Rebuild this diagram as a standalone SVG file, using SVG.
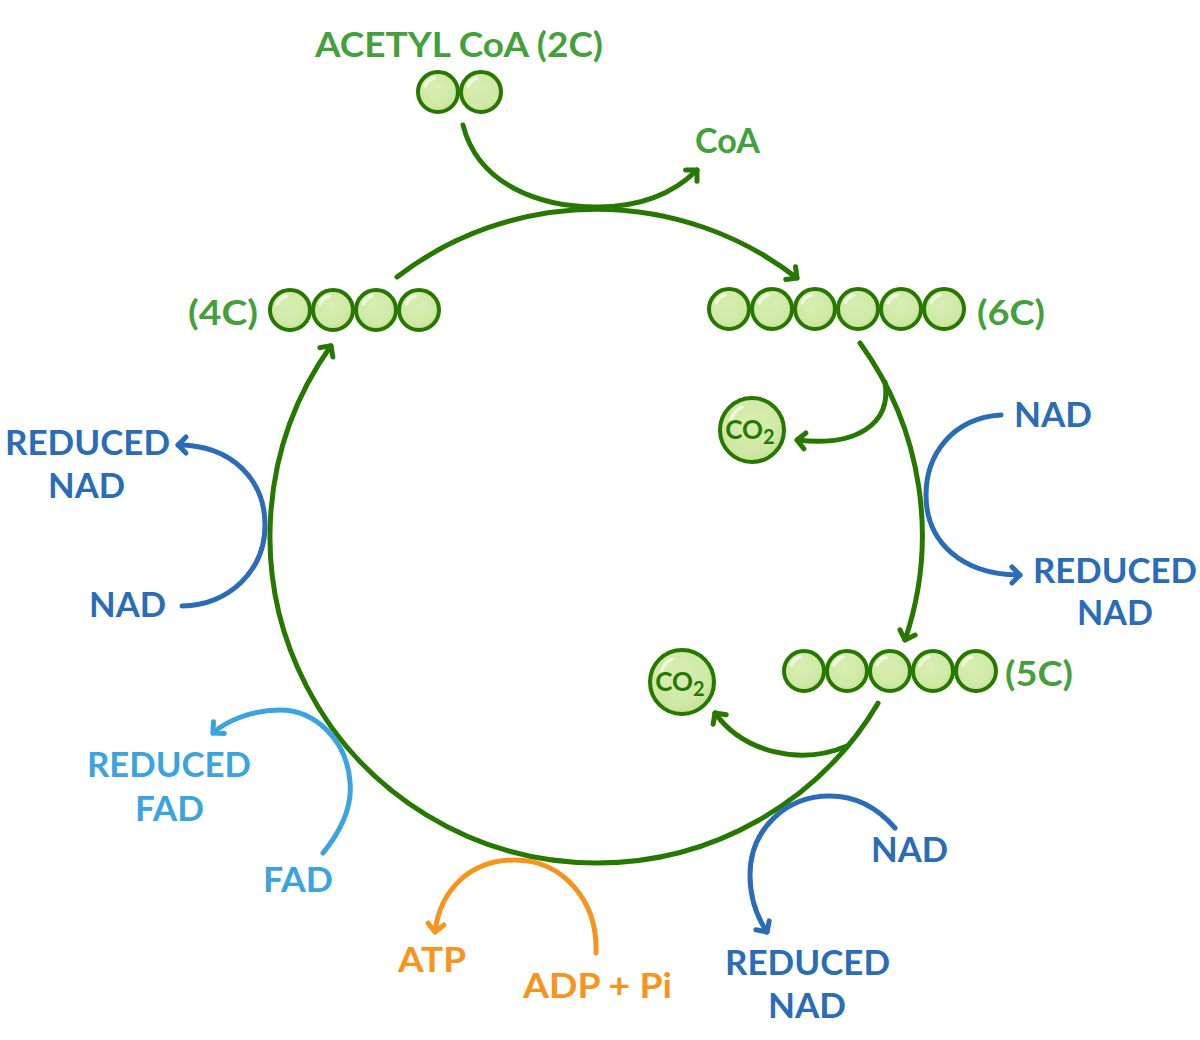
<svg xmlns="http://www.w3.org/2000/svg" xmlns:xlink="http://www.w3.org/1999/xlink" width="1200" height="1040" viewBox="0 0 1200 1040">
<style>
text{font-family:Lato,"Liberation Sans",sans-serif;font-weight:bold;font-size:34px}
.g{fill:#43a03a}.b{fill:#2a6cb8}.lb{fill:#3aa3e0}.o{fill:#f7941d}
.co{fill:#267800;font-size:26px}
.ln{fill:none;stroke-width:5;stroke-linecap:round}
.gl{stroke:#267800}.bl{stroke:#2a6cb8}.lbl{stroke:#3aa3e0}.ol{stroke:#f7941d}
</style>
<defs>
<radialGradient id="fillg" cx="0.45" cy="0.4" r="0.6">
<stop offset="0" stop-color="#d8eeb2"/><stop offset="0.75" stop-color="#d0e9a6"/><stop offset="1" stop-color="#c3e196"/>
</radialGradient>
<g id="atom">
<circle r="20" fill="url(#fillg)" stroke="#267800" stroke-width="4"/>
<path d="M-13,-6 A14,14 0 0 1 -4,-14" fill="none" stroke="#ffffff" stroke-opacity="0.65" stroke-width="3.5" stroke-linecap="round"/>
</g>
<marker id="mg" markerUnits="userSpaceOnUse" viewBox="-12 -12 24 24" markerWidth="24" markerHeight="24" orient="auto" refX="0" refY="0"><path d="M-8,-8 L0,0 L-8,8" fill="none" stroke="#267800" stroke-width="5" stroke-linecap="round" stroke-linejoin="round"/></marker>
<marker id="mb" markerUnits="userSpaceOnUse" viewBox="-12 -12 24 24" markerWidth="24" markerHeight="24" orient="auto" refX="0" refY="0"><path d="M-8,-8 L0,0 L-8,8" fill="none" stroke="#2a6cb8" stroke-width="5" stroke-linecap="round" stroke-linejoin="round"/></marker>
<marker id="mlb" markerUnits="userSpaceOnUse" viewBox="-12 -12 24 24" markerWidth="24" markerHeight="24" orient="auto" refX="0" refY="0"><path d="M-8,-8 L0,0 L-8,8" fill="none" stroke="#3aa3e0" stroke-width="5" stroke-linecap="round" stroke-linejoin="round"/></marker>
<marker id="mo" markerUnits="userSpaceOnUse" viewBox="-12 -12 24 24" markerWidth="24" markerHeight="24" orient="auto" refX="0" refY="0"><path d="M-8,-8 L0,0 L-8,8" fill="none" stroke="#f7941d" stroke-width="5" stroke-linecap="round" stroke-linejoin="round"/></marker>
</defs>
<rect width="1200" height="1040" fill="#ffffff"/>

<g id="connectors">
<path class="ln gl" d="M397,277 A327,327 0 0 1 797,278" marker-end="url(#mg)"/>
<path class="ln gl" d="M860,343 A327,327 0 0 1 905,640" marker-end="url(#mg)"/>
<path class="ln gl" d="M878.1,703.1 A327,327 0 0 1 597,863 A327,327 0 0 1 331,345.8" marker-end="url(#mg)"/>
<path class="ln gl" d="M463,125 C478,185 540,207 597,207 C640,207 672,195 697,170" marker-end="url(#mg)"/>
<path class="ln gl" d="M885,382 C892,425 855,447 797,440" marker-end="url(#mg)"/>
<path class="ln gl" d="M847,746 C800,766 743,752 715,713" marker-end="url(#mg)"/>
<path class="ln bl" d="M1001,415 C952,418 926,455 926,495 C926,542 962,575 1020,575" marker-end="url(#mb)"/>
<path class="ln bl" d="M182,606 C230,605 265,570 265,525 C265,480 232,445 178,445" marker-end="url(#mb)"/>
<path class="ln bl" d="M895,828 C876,806 855,796 830,796 C785,796 750,830 750,875 C750,900 757,917 767,932" marker-end="url(#mb)"/>
<path class="ln lbl" d="M323,853 C345,826 352,802 350,782 C347,740 315,710 280,710 C252,710 226,721 213,733" marker-end="url(#mlb)"/>
<path class="ln ol" d="M596,953 C598,900 562,860 515,860 C470,860 440,890 435,932" marker-end="url(#mo)"/>
</g>

<g id="acetyl-coa">
<text class="g" x="315" y="57" textLength="288" lengthAdjust="spacingAndGlyphs">ACETYL CoA (2C)</text>
<use xlink:href="#atom" x="438" y="92"/>
<use xlink:href="#atom" x="481" y="92"/>
</g>
<g id="coa"><text class="g" x="695" y="153" textLength="65" lengthAdjust="spacingAndGlyphs">CoA</text></g>

<g id="c6">
<use xlink:href="#atom" x="729" y="309"/>
<use xlink:href="#atom" x="772" y="309"/>
<use xlink:href="#atom" x="815" y="309"/>
<use xlink:href="#atom" x="858" y="309"/>
<use xlink:href="#atom" x="901" y="309"/>
<use xlink:href="#atom" x="944" y="309"/>
<text class="g" x="977" y="325" textLength="68" lengthAdjust="spacingAndGlyphs">(6C)</text>
</g>

<g id="c4">
<text class="g" x="188" y="325" textLength="70" lengthAdjust="spacingAndGlyphs">(4C)</text>
<use xlink:href="#atom" x="290" y="310"/>
<use xlink:href="#atom" x="333" y="310"/>
<use xlink:href="#atom" x="376" y="310"/>
<use xlink:href="#atom" x="419" y="310"/>
</g>

<g id="c5">
<use xlink:href="#atom" x="804" y="671"/>
<use xlink:href="#atom" x="847" y="671"/>
<use xlink:href="#atom" x="890" y="671"/>
<use xlink:href="#atom" x="933" y="671"/>
<use xlink:href="#atom" x="976" y="671"/>
<text class="g" x="1005" y="686" textLength="68" lengthAdjust="spacingAndGlyphs">(5C)</text>
</g>

<g id="co2-1">
<circle cx="752" cy="430" r="32" fill="url(#fillg)" stroke="#267800" stroke-width="4"/>
<path d="M731,420 A22,22 0 0 1 742,407" fill="none" stroke="#ffffff" stroke-opacity="0.65" stroke-width="3.5" stroke-linecap="round"/>
<text class="co" x="750" y="439" text-anchor="middle">CO<tspan font-size="20" dy="5">2</tspan></text>
</g>

<g id="co2-2">
<circle cx="682" cy="682" r="32" fill="url(#fillg)" stroke="#267800" stroke-width="4"/>
<path d="M661,672 A22,22 0 0 1 672,659" fill="none" stroke="#ffffff" stroke-opacity="0.65" stroke-width="3.5" stroke-linecap="round"/>
<text class="co" x="680" y="691" text-anchor="middle">CO<tspan font-size="20" dy="5">2</tspan></text>
</g>

<g id="nad-right">
<text class="b" x="1014" y="427" textLength="78" lengthAdjust="spacingAndGlyphs">NAD</text>
<text class="b" x="1033" y="583" textLength="164" lengthAdjust="spacingAndGlyphs">REDUCED</text>
<text class="b" x="1077" y="625" textLength="76" lengthAdjust="spacingAndGlyphs">NAD</text>
</g>

<g id="nad-left">
<text class="b" x="5" y="455" textLength="165" lengthAdjust="spacingAndGlyphs">REDUCED</text>
<text class="b" x="48" y="498" textLength="77" lengthAdjust="spacingAndGlyphs">NAD</text>
<text class="b" x="89" y="617" textLength="77" lengthAdjust="spacingAndGlyphs">NAD</text>
</g>

<g id="fad">
<text class="lb" x="87" y="777" textLength="164" lengthAdjust="spacingAndGlyphs">REDUCED</text>
<text class="lb" x="135" y="821" textLength="69" lengthAdjust="spacingAndGlyphs">FAD</text>
<text class="lb" x="263" y="892" textLength="70" lengthAdjust="spacingAndGlyphs">FAD</text>
</g>

<g id="atp">
<text class="o" x="398" y="972" textLength="68" lengthAdjust="spacingAndGlyphs">ATP</text>
<text class="o" x="523" y="998" textLength="149" lengthAdjust="spacingAndGlyphs">ADP + Pi</text>
</g>

<g id="nad-bottom">
<text class="b" x="871" y="862" textLength="77" lengthAdjust="spacingAndGlyphs">NAD</text>
<text class="b" x="725" y="975" textLength="165" lengthAdjust="spacingAndGlyphs">REDUCED</text>
<text class="b" x="768" y="1018" textLength="78" lengthAdjust="spacingAndGlyphs">NAD</text>
</g>
</svg>
